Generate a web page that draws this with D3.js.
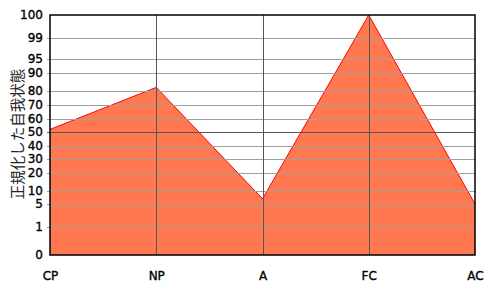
<!DOCTYPE html>
<html><head><meta charset="utf-8">
<script src="https://cdn.jsdelivr.net/npm/d3@7"></script>
<style>body{margin:0;background:#fff}svg{display:block}</style>
</head><body>
<svg id="c" width="500" height="300"></svg>
<script>
const categories = ["CP","NP","A","FC","AC"];
const values = [52, 82, 7, 100, 5];
const yTicks = [0,1,5,10,20,30,40,50,60,70,80,90,95,99,100];
const yTitle = "正規化した自我状態";

// layout
const L = 50, R = 475, T = 15, B = 255;
// non-linear axis: fraction of plot height (from bottom) for each tick
const tickFrac = [0, 28, 51, 64, 82, 96, 109, 123, 136, 150, 164, 182, 196, 217, 240].map(d => d / 240);

const svg = d3.select("#c");
const x = d3.scalePoint().domain(categories).range([L, R]);
const y = d3.scaleLinear().domain(yTicks).range(tickFrac.map(f => B - f * (B - T)));

// area
const pts = categories.map((c, i) => [x(c), y(values[i])]);
svg.append("path")
  .attr("d", d3.area().x(d => d[0]).y0(B).y1(d => d[1])(pts))
  .attr("fill", "#ff7850");
svg.append("path")
  .attr("d", d3.line()(pts))
  .attr("fill", "none").attr("stroke", "#ff0000").attr("stroke-width", 1);

// horizontal grid
svg.append("g").selectAll("line").data(yTicks.filter(t => t !== 0 && t !== 100)).join("line")
  .attr("x1", L - 3).attr("x2", R)
  .attr("y1", d => Math.round(y(d)) + 0.5).attr("y2", d => Math.round(y(d)) + 0.5)
  .attr("stroke", d => d === 50 ? "#555" : "#a0a0a0").attr("stroke-width", 1);

// vertical grid
svg.append("g").selectAll("line").data(categories.slice(1, -1)).join("line")
  .attr("x1", d => Math.round(x(d)) + 0.5).attr("x2", d => Math.round(x(d)) + 0.5)
  .attr("y1", T).attr("y2", B)
  .attr("stroke", "#555").attr("stroke-width", 1);

// frame
svg.append("rect").attr("x", L).attr("y", T).attr("width", R - L).attr("height", B - T)
  .attr("fill", "none").attr("stroke", "#000").attr("stroke-width", 1.5);

const styleText = sel => sel.attr("font-family", "DejaVu Sans, Verdana, sans-serif").attr("font-size", 12)
  .attr("fill", "#000").attr("stroke", "#000").attr("stroke-width", 0.35);

// y labels
const yAxis = d3.axisLeft(y).tickValues(yTicks).tickSize(0).tickPadding(7).tickFormat(d3.format("d"));
const ga = svg.append("g").attr("transform", `translate(${L},0)`).call(yAxis);
ga.select(".domain").remove();
ga.selectAll("text").call(styleText);

// x labels
const xAxis = d3.axisBottom(x).tickSize(0).tickPadding(16);
const gx = svg.append("g").attr("transform", `translate(0,${B})`).call(xAxis);
gx.select(".domain").remove();
gx.selectAll("text").call(styleText);

// title
svg.append("text").attr("transform", `translate(23,${(T + B) / 2 - 1}) rotate(-90)`)
  .attr("text-anchor", "middle").attr("font-family", "Noto Sans CJK JP, sans-serif")
  .attr("font-size", 14.5).attr("fill", "#222").text(yTitle);
</script>
</body></html>
